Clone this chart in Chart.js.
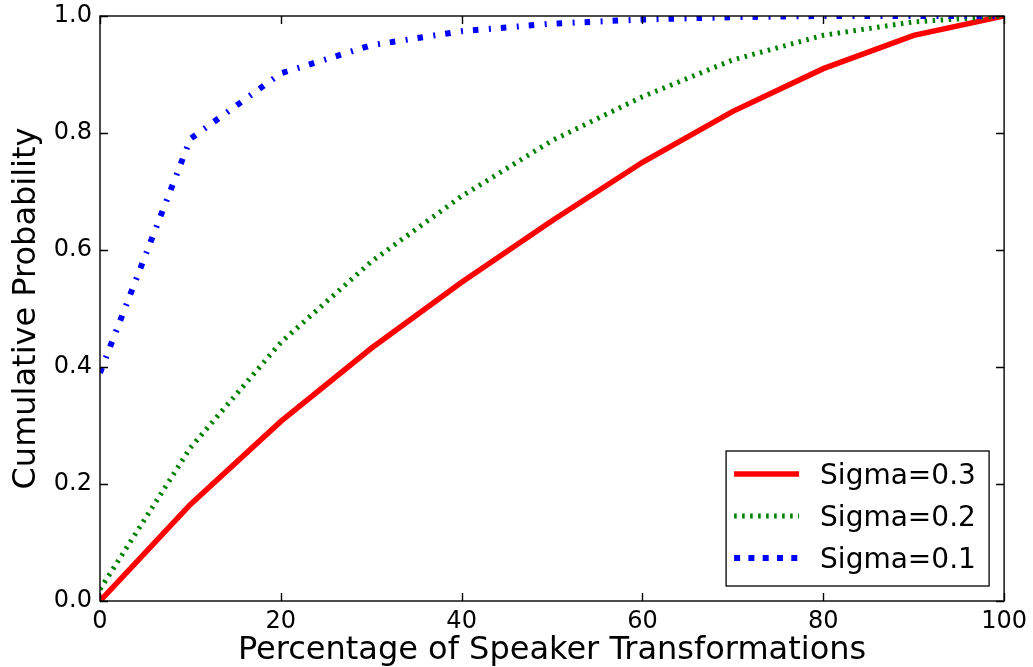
<!DOCTYPE html>
<html>
<head>
<meta charset="utf-8">
<script src="https://cdn.jsdelivr.net/npm/chart.js@4.4.1/dist/chart.umd.min.js"></script>
<style>
  html, body { margin: 0; padding: 0; background: #fff; overflow: hidden; }
  canvas { display: block; }
</style>
</head>
<body>
<canvas id="cdf" width="1033" height="667"></canvas>
<script>
// Share of speaker transformations (%) and the cumulative probability per noise level
const transformPct = [0, 10, 20, 30, 40, 50, 60, 70, 80, 90, 100];
const sigma03 = [0.0, 0.165, 0.307, 0.432, 0.545, 0.65, 0.75, 0.837, 0.91, 0.967, 1.0];
const sigma02 = [0.02, 0.262, 0.442, 0.58, 0.692, 0.787, 0.862, 0.925, 0.967, 0.99, 1.0];
const sigma01 = [0.39, 0.79, 0.902, 0.95, 0.974, 0.987, 0.994, 0.998, 1.0, 1.0, 1.0];
const seriesNames = ['Sigma=0.3', 'Sigma=0.2', 'Sigma=0.1'];
const xTicks = [0, 20, 40, 60, 80, 100];
const yTicks = [0.0, 0.2, 0.4, 0.6, 0.8, 1.0];

const FONT = 'DejaVu Sans';
Chart.defaults.font.family = FONT;
Chart.defaults.color = '#000';

const toPoints = vals => transformPct.map((x, i) => ({ x, y: vals[i] }));

const series = [
  { label: seriesNames[0], data: toPoints(sigma03), color: '#ff0000', width: 5.5, dash: [], legendDash: [], order: 3 },
  { label: seriesNames[1], data: toPoints(sigma02), color: '#008000', width: 5, dash: [2.5, 5.5], legendDash: [2.6, 5.4], order: 2 },
  { label: seriesNames[2], data: toPoints(sigma01), color: '#0000ff', width: 6, dash: [5.5, 10.5, 2, 10], legendDash: [6, 8.3], order: 1 }
];

// Axes frame with inward ticks on all four sides, plus a boxed legend in the lower right
const frameAndLegend = {
  id: 'frameAndLegend',
  afterDatasetsDraw(chart) {
    const { ctx, chartArea: a, scales: { x, y } } = chart;
    ctx.save();
    ctx.strokeStyle = '#000';
    ctx.lineWidth = 1.4;
    ctx.setLineDash([]);
    const len = 8;
    ctx.beginPath();
    xTicks.forEach(v => {
      const px = Math.round(x.getPixelForValue(v)) + 0.5;
      ctx.moveTo(px, a.bottom); ctx.lineTo(px, a.bottom - len);
      ctx.moveTo(px, a.top); ctx.lineTo(px, a.top + len);
    });
    yTicks.forEach(v => {
      const py = Math.round(y.getPixelForValue(v)) + 0.5;
      ctx.moveTo(a.left, py); ctx.lineTo(a.left + len, py);
      ctx.moveTo(a.right, py); ctx.lineTo(a.right - len, py);
    });
    ctx.stroke();
    ctx.strokeRect(a.left, a.top, a.right - a.left, a.bottom - a.top);

    // legend
    const boxW = 263, boxH = 135;
    const bx = a.right - 15 - boxW, by = a.bottom - 15 - boxH;
    ctx.fillStyle = '#fff';
    ctx.fillRect(bx, by, boxW, boxH);
    ctx.lineWidth = 1.3;
    ctx.strokeRect(bx, by, boxW, boxH);
    const rowGap = 42;
    const fontSize = 28;
    ctx.font = fontSize + 'px "' + FONT + '"';
    ctx.textAlign = 'left';
    ctx.textBaseline = 'alphabetic';
    chart.data.datasets.forEach((ds, i) => {
      const ry = by + 23 + i * rowGap;
      ctx.beginPath();
      ctx.strokeStyle = ds.borderColor;
      ctx.lineWidth = ds.borderWidth;
      ctx.setLineDash(series[i].legendDash);
      ctx.moveTo(bx + 8, ry);
      ctx.lineTo(bx + 73, ry);
      ctx.stroke();
      ctx.setLineDash([]);
      ctx.fillStyle = '#000';
      ctx.fillText(ds.label, bx + 94, ry + 10);
    });
    ctx.restore();
  }
};

new Chart(document.getElementById('cdf'), {
  type: 'line',
  data: {
    datasets: series.map(s => ({
      label: s.label,
      data: s.data,
      borderColor: s.color,
      backgroundColor: s.color,
      borderWidth: s.width,
      borderDash: s.dash,
      pointRadius: 0,
      tension: 0,
      fill: false,
      order: s.order
    }))
  },
  options: {
    responsive: false,
    animation: false,
    devicePixelRatio: 1,
    layout: { padding: { top: 16, right: 28, left: 0, bottom: 0 } },
    plugins: { legend: { display: false }, tooltip: { enabled: false } },
    scales: {
      x: {
        type: 'linear',
        min: 0, max: 100,
        afterBuildTicks: s => { s.ticks = xTicks.map(v => ({ value: v })); },
        afterFit: s => { s.height = 66; },
        grid: { display: false, drawTicks: false },
        border: { display: false },
        ticks: { font: { size: 24 }, color: '#000', padding: 6, maxRotation: 0, callback: v => String(v) },
        title: { display: true, text: 'Percentage of Speaker Transformations', font: { size: 32 }, color: '#000', padding: { top: 0, bottom: -3 } }
      },
      y: {
        type: 'linear',
        min: 0, max: 1,
        afterBuildTicks: s => { s.ticks = yTicks.map(v => ({ value: v })); },
        afterFit: s => { s.width = 100; },
        grid: { display: false, drawTicks: false },
        border: { display: false },
        ticks: { font: { size: 24, lineHeight: 0.6 }, color: '#000', padding: 8, callback: v => Number(v).toFixed(1) },
        title: { display: true, text: 'Cumulative Probability', font: { size: 32 }, color: '#000', padding: { top: 7, bottom: 0 } }
      }
    }
  },
  plugins: [frameAndLegend]
});
</script>
</body>
</html>
